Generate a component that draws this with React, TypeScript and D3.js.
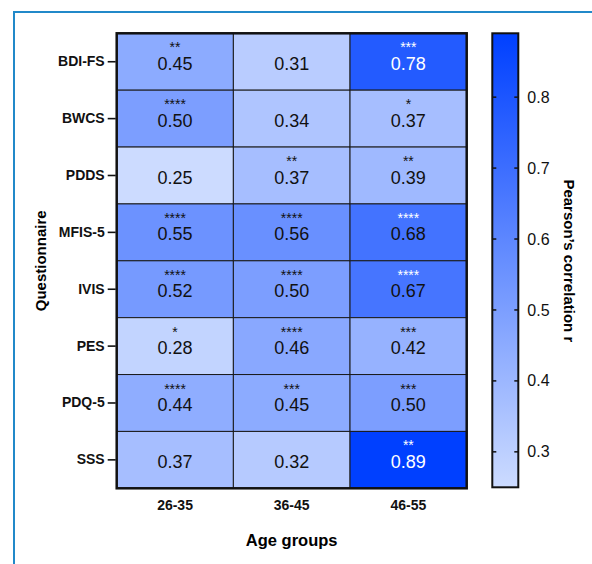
import React, { useEffect, useRef } from "react";
import { select, scaleBand, scaleLinear, interpolateRgb, axisLeft, axisBottom, range } from "d3";

const questionnaires = ["BDI-FS", "BWCS", "PDDS", "MFIS-5", "IVIS", "PES", "PDQ-5", "SSS"];
const ageGroups = ["26-35", "36-45", "46-55"];

const r2635 = [0.45, 0.5, 0.25, 0.55, 0.52, 0.28, 0.44, 0.37];
const r3645 = [0.31, 0.34, 0.37, 0.56, 0.5, 0.46, 0.45, 0.32];
const r4655 = [0.78, 0.37, 0.39, 0.68, 0.67, 0.42, 0.5, 0.89];

const s2635 = ["**", "****", "", "****", "****", "*", "****", ""];
const s3645 = ["", "", "**", "****", "****", "****", "***", ""];
const s4655 = ["***", "*", "**", "****", "****", "***", "***", "**"];

const colorTicks = [0.3, 0.4, 0.5, 0.6, 0.7, 0.8];

const FONT = "'Liberation Sans', Arial, Helvetica, sans-serif";

export default function App() {
  const svgRef = useRef<SVGSVGElement>(null);

  useEffect(() => {
    const svg = select(svgRef.current);
    svg.selectAll("*").remove();

    const left = 116.7, top = 33.3, w = 350, h = 455;
    const values = [r2635, r3645, r4655];
    const stars = [s2635, s3645, s4655];
    const cells: { col: string; row: string; v: number; s: string }[] = [];
    ageGroups.forEach((a, i) =>
      questionnaires.forEach((q, j) => cells.push({ col: a, row: q, v: values[i][j], s: stars[i][j] }))
    );

    const lo = 0.25, hi = 0.89;
    const color = scaleLinear<string>()
      .domain([lo, hi])
      .range(["rgb(204,219,255)", "rgb(0,64,255)"])
      .interpolate(interpolateRgb);

    const x = scaleBand().domain(ageGroups).range([left, left + w]);
    const y = scaleBand().domain(questionnaires).range([top, top + h]);

    // blue frame
    svg.append("path")
      .attr("d", "M14,600 L14,12 L600,12")
      .attr("fill", "none")
      .attr("stroke", "#2189c9")
      .attr("stroke-width", 2);

    const g = svg.append("g");
    g.selectAll("rect.cell")
      .data(cells)
      .join("rect")
      .attr("class", "cell")
      .attr("x", d => x(d.col)!)
      .attr("y", d => y(d.row)!)
      .attr("width", x.bandwidth())
      .attr("height", y.bandwidth())
      .attr("fill", d => color(d.v))
      .attr("stroke", "#1a1a1a")
      .attr("stroke-width", 1);

    g.selectAll("text.val")
      .data(cells)
      .join("text")
      .attr("class", "val")
      .attr("x", d => x(d.col)! + x.bandwidth() / 2)
      .attr("y", d => y(d.row)! + 36.5)
      .attr("text-anchor", "middle")
      .attr("font-family", FONT)
      .attr("font-size", 18)
      .attr("fill", d => (d.v > 0.7 ? "#fff" : "#111"))
      .text(d => d.v.toFixed(2));

    g.selectAll("text.star")
      .data(cells.filter(d => d.s))
      .join("text")
      .attr("class", "star")
      .attr("x", d => x(d.col)! + x.bandwidth() / 2)
      .attr("y", d => y(d.row)! + 19)
      .attr("text-anchor", "middle")
      .attr("font-family", FONT)
      .attr("font-size", 14)
      .attr("fill", d => (d.v > 0.6 ? "#fff" : "#111"))
      .text(d => d.s);

    g.append("rect")
      .attr("x", left).attr("y", top).attr("width", w).attr("height", h)
      .attr("fill", "none").attr("stroke", "#111").attr("stroke-width", 2.5);

    // y axis
    const ya = svg.append("g")
      .attr("transform", `translate(${left - 1},0)`)
      .call(axisLeft(y).tickSize(8).tickPadding(3));
    ya.select(".domain").remove();
    ya.selectAll("line").attr("stroke", "#111").attr("stroke-width", 1.6);
    ya.selectAll("text")
      .attr("font-family", FONT).attr("font-size", 14).attr("font-weight", "bold").attr("fill", "#111");

    // x axis
    const xa = svg.append("g")
      .attr("transform", `translate(0,${top + h})`)
      .call(axisBottom(x).tickSize(0).tickPadding(12));
    xa.select(".domain").remove();
    xa.selectAll("text")
      .attr("font-family", FONT).attr("font-size", 14).attr("font-weight", "bold").attr("fill", "#111");

    svg.append("text")
      .attr("x", left + w / 2).attr("y", 546)
      .attr("text-anchor", "middle")
      .attr("font-family", FONT).attr("font-size", 16.5).attr("font-weight", "bold")
      .text("Age groups");

    svg.append("text")
      .attr("transform", `translate(46,${top + h / 2}) rotate(-90)`)
      .attr("text-anchor", "middle")
      .attr("font-family", FONT).attr("font-size", 15).attr("font-weight", "bold")
      .text("Questionnaire");

    // colour bar
    const cbx = 492.3, cbw = 26, cbTop = 33.3, cbBot = 487.3;
    const cy = scaleLinear().domain([lo, hi]).range([cbBot, cbTop]);
    const grad = svg.append("defs").append("linearGradient")
      .attr("id", "cbGrad").attr("x1", 0).attr("y1", 1).attr("x2", 0).attr("y2", 0);
    grad.selectAll("stop")
      .data(range(0, 1.0001, 0.1))
      .join("stop")
      .attr("offset", t => t)
      .attr("stop-color", t => color(lo + t * (hi - lo)));
    svg.append("rect")
      .attr("x", cbx).attr("y", cbTop).attr("width", cbw).attr("height", cbBot - cbTop)
      .attr("fill", "url(#cbGrad)").attr("stroke", "#111").attr("stroke-width", 2);
    const ct = svg.append("g");
    ct.selectAll("line.l")
      .data(colorTicks).join("line").attr("class", "l")
      .attr("x1", cbx).attr("x2", cbx + 4).attr("y1", d => cy(d)).attr("y2", d => cy(d))
      .attr("stroke", "#111").attr("stroke-width", 1.5);
    ct.selectAll("line.r")
      .data(colorTicks).join("line").attr("class", "r")
      .attr("x1", cbx + cbw - 4).attr("x2", cbx + cbw).attr("y1", d => cy(d)).attr("y2", d => cy(d))
      .attr("stroke", "#111").attr("stroke-width", 1.5);
    ct.selectAll("text")
      .data(colorTicks).join("text")
      .attr("x", cbx + cbw + 9).attr("y", d => cy(d)).attr("dy", "0.35em")
      .attr("font-family", FONT).attr("font-size", 16).attr("fill", "#111")
      .text(d => d.toFixed(1));

    svg.append("text")
      .attr("transform", `translate(564,${top + h / 2}) rotate(90)`)
      .attr("text-anchor", "middle")
      .attr("font-family", FONT).attr("font-size", 15).attr("font-weight", "bold")
      .text("Pearson\u2019s correlation r");
  }, []);

  return (
    <svg
      ref={svgRef}
      width={592}
      height={564}
      style={{ position: "absolute", left: 0, top: 0, background: "#fff" }}
    />
  );
}
